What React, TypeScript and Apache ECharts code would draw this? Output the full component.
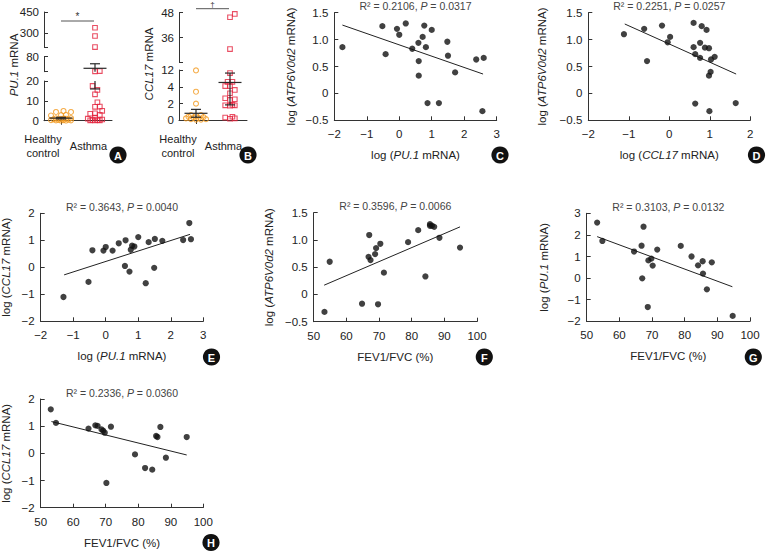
import React, { useEffect, useRef } from "react";
import * as echarts from "echarts";

// ---------------- data ----------------
const groups = ["Healthy\ncontrol", "Asthma"];

const pu1Healthy = [4.9, 4.4, 4.4, 2.9, 2.8, 2.6, 1.3, 1.2, 1.1, 1.0, 0.9, 0.7, 0.5, 0.4, 0.3, 0.3, 0.2, 0.2, 0.1, 0.1];
const pu1Asthma = [339, 281, 203, 23, 22, 17.5, 15.5, 13.3, 9.3, 7.1, 7.0, 5.0, 3.7, 3.5, 2.9, 1.5, 1.0, 0.6, 0.4, 0.3, 0.2, 0.2, 0.1];
const pu1Mean = [1.3, 34];
const pu1Sem = [0.4, 18];

const ccl17Healthy = [12, 3.46, 2.0, 0.6, 0.6, 0.5, 0.4, 0.35, 0.3, 0.25, 0.2, 0.1, 0.1, 0.05, 0.05];
const ccl17Asthma = [47.4, 45.8, 30.4, 10.75, 6.6, 6.6, 4.6, 4.6, 3.68, 3.27, 2.66, 2.54, 2.45, 1.85, 1.8, 1.8, 1.75, 0.4, 0.3, 0.2, 0.15];
const ccl17Mean = [0.82, 6.3];
const ccl17Sem = [0.48, 4.45];

// C: log PU.1 vs log ATP6V0d2
const panelC = [[-1.75, 0.86], [-0.52, 1.25], [-0.42, 0.73], [-0.07, 1.2], [0.0, 1.09], [0.2, 1.3], [0.4, 0.83], [0.59, 0.94], [0.6, 0.6], [0.6, 0.33], [0.72, 1.05], [0.77, 1.26], [0.82, 0.86], [0.87, -0.18], [1.0, 1.18], [1.22, -0.18], [1.48, 0.96], [1.5, 0.7], [1.72, 0.39], [2.37, 0.63], [2.56, -0.33], [2.6, 0.66]];
const fitC = [[-1.75, 1.27], [2.58, 0.36]];
const statsC = ["0.2106", "0.0317"];

// D: log CCL17 vs log ATP6V0d2
const panelD = [[-1.12, 1.1], [-0.62, 1.2], [-0.55, 0.6], [-0.18, 1.26], [-0.04, 0.95], [0.02, 1.05], [0.6, 1.31], [0.6, 0.86], [0.64, 0.73], [0.64, -0.19], [0.76, 0.66], [0.76, 0.94], [0.8, 1.25], [0.88, 0.85], [0.92, 1.18], [0.98, 0.84], [0.98, 0.33], [1.02, 0.4], [0.99, -0.33], [1.03, 0.63], [1.12, 0.68], [1.64, -0.18]];
const fitD = [[-1.1, 1.29], [1.65, 0.36]];
const statsD = ["0.2251", "0.0257"];

// E: log PU.1 vs log CCL17
const panelE = [[-1.3, -1.1], [-0.53, -0.54], [-0.41, 0.63], [-0.07, 0.62], [0.0, 0.75], [0.21, 0.62], [0.4, 0.89], [0.59, 0.05], [0.61, 1.0], [0.73, -0.16], [0.77, 0.65], [0.81, 0.8], [0.88, 0.77], [1.0, 1.12], [1.23, -0.59], [1.32, 0.93], [1.49, -0.02], [1.51, 1.05], [1.74, 0.98], [2.38, 1.01], [2.57, 1.64], [2.62, 1.04]];
const fitE = [[-1.28, -0.28], [2.59, 1.22]];
const statsE = ["0.3643", "0.0040"];

// F: FEV1/FVC vs log ATP6V0d2
const panelF = [[53.3, -0.32], [54.9, 0.6], [64.8, -0.17], [66.8, 0.69], [67.0, 1.09], [67.4, 0.63], [68.8, 0.74], [69.1, 0.85], [69.7, -0.18], [70.4, 0.93], [71.5, 0.4], [78.9, 0.96], [82.0, 1.18], [84.2, 0.33], [85.6, 1.29], [85.6, 1.26], [86.2, 1.26], [86.9, 1.24], [88.5, 1.04], [94.8, 0.86]];
const fitF = [[53.2, 0.17], [94.8, 1.24]];
const statsF = ["0.3596", "0.0066"];

// G: FEV1/FVC vs log PU.1
const panelG = [[53.2, 2.57], [54.8, 1.72], [64.5, 1.23], [66.8, 1.5], [67.0, -0.01], [67.4, 2.38], [68.9, 0.82], [68.7, -1.34], [69.8, 0.9], [70.2, 0.58], [71.6, 1.32], [78.8, 1.49], [82.1, 1.0], [84.1, 0.59], [85.5, 0.78], [85.6, 0.21], [86.8, -0.52], [88.3, 0.73], [94.7, -1.75]];
const fitG = [[53.2, 1.92], [94.6, -0.4]];
const statsG = ["0.3103", "0.0132"];

// H: FEV1/FVC vs log CCL17
const panelH = [[53.1, 1.62], [54.7, 1.12], [64.7, 0.91], [66.8, 1.03], [67.5, 1.01], [68.7, 0.88], [69.2, 0.83], [69.7, 0.76], [70.2, -1.09], [71.6, 0.98], [79.0, -0.04], [82.1, -0.54], [84.3, -0.6], [85.5, 0.64], [85.9, 0.6], [86.8, 0.97], [88.5, -0.16], [94.9, 0.6]];
const fitH = [[53.3, 1.17], [94.9, -0.06]];
const statsH = ["0.2336", "0.0360"];

// ---------------- styling / layout ----------------
const FONT = "'Liberation Sans', Arial, Helvetica, sans-serif";
const INK = "#222";
const AXIS = "#333";
const ORANGE = "#F29A1F";
const RED = "#E4233D";
const FS = 11.5;

type Seg = { top: number; height: number; min: number; max: number; ticks: number[]; labels: number[] };

const rich = {
  i: { fontStyle: "italic", fontSize: FS, fontFamily: FONT, color: INK },
};

function segPx(segs: Seg[], v: number) {
  let s = segs.find((q) => v >= q.min && v <= q.max);
  if (!s) {
    let bd = Infinity;
    for (const q of segs) {
      const d = Math.min(Math.abs(v - q.min), Math.abs(v - q.max));
      if (d < bd) { bd = d; s = q; }
    }
  }
  const q = s as Seg;
  const c = Math.min(Math.max(v, q.min), q.max);
  return q.top + ((q.max - c) / (q.max - q.min)) * q.height;
}

// beeswarm layout with a limited horizontal spread
function swarm(values: number[], segs: Seg[], d: number, spread: number) {
  const order = values.map((_, i) => i).sort((a, b) => values[a] - values[b]);
  const placed: { x: number; y: number }[] = [];
  const off = new Array(values.length).fill(0);
  const step = d * 0.5;
  const cands: number[] = [0];
  for (let k = 1; k * step <= spread + 0.01; k++) { cands.push(k * step, -k * step); }
  for (const i of order) {
    const y = segPx(segs, values[i]);
    let best = 0, bestScore = -Infinity;
    for (const c of cands) {
      const md = placed.length ? Math.min(...placed.map((p) => Math.hypot(p.x - c, p.y - y))) : Infinity;
      if (md >= d) { best = c; bestScore = Infinity; break; }
      if (md > bestScore + 0.3) { bestScore = md; best = c; }
    }
    off[i] = best;
    placed.push({ x: best, y });
  }
  return off;
}

function errRender(seg: Seg) {
  return (params: any, api: any) => {
    const cat = api.value(0);
    const mean = api.value(1);
    const sem = api.value(2);
    const style = { stroke: "#2a2a2a", lineWidth: 1.2 };
    const cx = api.coord([cat, seg.min])[0];
    const yOf = (v: number) => api.coord([cat, v])[1];
    const children: any[] = [];
    const lo = Math.max(mean - sem, seg.min);
    const hi = Math.min(mean + sem, seg.max);
    const inSeg = (v: number) => v >= seg.min && v <= seg.max;
    if (hi > lo) children.push({ type: "line", shape: { x1: cx, y1: yOf(lo), x2: cx, y2: yOf(hi) }, style });
    if (inSeg(mean)) children.push({ type: "line", shape: { x1: cx - 11.5, y1: yOf(mean), x2: cx + 11.5, y2: yOf(mean) }, style });
    if (inSeg(mean + sem)) children.push({ type: "line", shape: { x1: cx - 5, y1: yOf(mean + sem), x2: cx + 5, y2: yOf(mean + sem) }, style });
    if (inSeg(mean - sem)) children.push({ type: "line", shape: { x1: cx - 5, y1: yOf(mean - sem), x2: cx + 5, y2: yOf(mean - sem) }, style });
    return { type: "group", children };
  };
}

function addBroken(opt: any, cfg: any) {
  const offH = swarm(cfg.healthy, cfg.segs, 5, 11);
  const offA = swarm(cfg.asthma, cfg.segs, 4.8, 8);
  const owner = (v: number) => cfg.segs.findIndex((q: Seg) => v >= q.min && v <= q.max);
  cfg.segs.forEach((s: Seg, si: number) => {
    const gi = opt.grid.length;
    const isBottom = si === 0;
    opt.grid.push({ left: cfg.left, width: cfg.width, top: s.top, height: s.height, outerBoundsMode: "none" });
    opt.xAxis.push({
      gridIndex: gi, type: "category", data: groups, show: isBottom, boundaryGap: true,
      axisLine: { show: true, lineStyle: { color: AXIS, width: 1 } },
      axisTick: { show: true, alignWithLabel: true, length: 4, lineStyle: { color: AXIS } },
      axisLabel: { show: false },
      splitLine: { show: false },
    });
    opt.yAxis.push({
      gridIndex: gi, type: "value", min: s.min, max: s.max,
      axisLine: { show: true, onZero: false, lineStyle: { color: AXIS, width: 1 } },
      axisTick: { show: true, inside: true, length: 4, customValues: s.ticks, lineStyle: { color: AXIS } },
      axisLabel: { customValues: s.labels, fontSize: FS, color: INK, fontFamily: FONT, margin: 5 },
      splitLine: { show: false },
    });
    opt.series.push({
      type: "scatter", xAxisIndex: gi, yAxisIndex: gi, symbol: "circle", symbolSize: 5,
      itemStyle: { color: "rgba(255,255,255,0)", borderColor: ORANGE, borderWidth: 1.1 },
      data: cfg.healthy.map((v: number, i: number) => ({ value: [0, v], symbolOffset: [offH[i], 0] })).filter((d: any) => owner(d.value[1]) === si),
      z: 2,
    });
    opt.series.push({
      type: "scatter", xAxisIndex: gi, yAxisIndex: gi, symbol: "rect", symbolSize: 4.6,
      itemStyle: { color: "rgba(255,255,255,0)", borderColor: RED, borderWidth: 1.1 },
      data: cfg.asthma.map((v: number, i: number) => ({ value: [1, v], symbolOffset: [offA[i], 0] })).filter((d: any) => owner(d.value[1]) === si),
      z: 2,
    });
    opt.series.push({
      type: "custom", xAxisIndex: gi, yAxisIndex: gi, renderItem: errRender(s),
      encode: { x: 0, y: 1 },
      data: cfg.mean.map((m: number, i: number) => [i, m, cfg.sem[i]]),
      z: 5,
    });
  });
  // category labels, placed in the band under the axis where the original's slanted labels sit
  const bw = cfg.width / groups.length;
  const shift = [-18, -6.5];
  groups.forEach((g, i) => {
    opt.graphic.push({
      type: "text", x: cfg.left + bw * (i + 0.5) + shift[i], y: 146,
      style: { text: g, fontSize: 11, lineHeight: 13.5, fill: INK, fontFamily: FONT, align: "center", verticalAlign: "middle" },
    });
  });
}

function fmt(v: number, dec: number) {
  const s = v === 0 ? "0" : v.toFixed(dec);
  return s.replace("-", "\u2212");
}

function addScatter(opt: any, p: any) {
  const gi = opt.grid.length;
  opt.grid.push({ left: p.box[0], top: p.box[1], width: p.box[2], height: p.box[3], outerBoundsMode: "none" });
  const common = {
    axisLine: { show: true, onZero: false, lineStyle: { color: AXIS, width: 1 } },
    axisTick: { show: true, inside: true, length: 4, lineStyle: { color: AXIS } },
    splitLine: { show: false },
    nameLocation: "middle",
    nameTextStyle: { fontSize: FS, color: INK, fontFamily: FONT, rich },
  };
  opt.xAxis.push({
    ...common, gridIndex: gi, type: "value", min: p.x[0], max: p.x[1], interval: p.x[2],
    name: p.xName, nameGap: 29,
    axisLabel: { fontSize: FS, color: INK, fontFamily: FONT, margin: 8, formatter: (v: number) => fmt(v, 0) },
  });
  opt.yAxis.push({
    ...common, gridIndex: gi, type: "value", min: p.y[0], max: p.y[1], interval: p.y[2],
    name: p.yName, nameGap: p.yGap,
    axisLabel: { fontSize: FS, color: INK, fontFamily: FONT, margin: 6, formatter: (v: number) => fmt(v, p.y[3]) },
  });
  opt.series.push({
    type: "scatter", xAxisIndex: gi, yAxisIndex: gi, symbol: "circle", symbolSize: 6.2,
    itemStyle: { color: "#111" }, data: p.data, z: 3,
  });
  opt.series.push({
    type: "line", xAxisIndex: gi, yAxisIndex: gi, data: p.fit, showSymbol: false, symbol: "none",
    lineStyle: { color: "#222", width: 1 }, z: 2,
  });
  opt.graphic.push({
    type: "text", x: p.box[0] + p.box[2] / 2, y: p.box[1] - 6.5,
    style: {
      text: `R\u00B2 = ${p.stats[0]}, {i|P} = ${p.stats[1]}`,
      fontSize: 10.5, fill: "#444", fontFamily: FONT, align: "center", verticalAlign: "middle",
      rich: { i: { fontStyle: "italic", fontSize: 10.5, fill: "#444", fontFamily: FONT } },
    },
  });
  badge(opt, p.badge[0], p.badge[1], p.key);
}

function badge(opt: any, x: number, y: number, letter: string) {
  opt.graphic.push({ type: "circle", shape: { cx: x, cy: y, r: 8.6 }, style: { fill: "#111" } });
  opt.graphic.push({
    type: "text", x, y: y + 0.5,
    style: { text: letter, fontSize: 11, fontWeight: "bold", fill: "#fff", fontFamily: FONT, align: "center", verticalAlign: "middle" },
  });
}

function buildOption() {
  const opt: any = {
    animation: false,
    backgroundColor: "#fff",
    textStyle: { fontFamily: FONT },
    grid: [], xAxis: [], yAxis: [], series: [], graphic: [],
  };

  // Panel A
  addBroken(opt, {
    left: 44, width: 68,
    segs: [
      { top: 81, height: 39.7, min: 0, max: 20, ticks: [0, 10, 20], labels: [0, 10, 20] },
      { top: 56.7, height: 15, min: 20.5, max: 80, ticks: [20.5, 40, 80], labels: [40, 80] },
      { top: 12, height: 35.5, min: 200, max: 450, ticks: [200, 300, 450], labels: [300, 450] },
    ],
    healthy: pu1Healthy, asthma: pu1Asthma, mean: pu1Mean, sem: pu1Sem,
  });
  // Panel B
  addBroken(opt, {
    left: 179, width: 68,
    segs: [
      { top: 87.3, height: 32.7, min: 0, max: 4, ticks: [0, 2, 4], labels: [0, 2, 4] },
      { top: 70, height: 17.3, min: 4.01, max: 12.2, ticks: [12.2], labels: [12] },
      { top: 12.7, height: 49.6, min: 24, max: 48, ticks: [24, 36, 48], labels: [36, 48] },
    ],
    healthy: ccl17Healthy, asthma: ccl17Asthma, mean: ccl17Mean, sem: ccl17Sem,
  });

  // A/B y-axis names
  opt.graphic.push({
    type: "text", x: 13.5, y: 65, rotation: Math.PI / 2,
    style: { text: "{i|PU.1} mRNA", fontSize: FS, fill: INK, fontFamily: FONT, align: "center", verticalAlign: "middle", rich: { i: { fontStyle: "italic", fontSize: FS, fill: INK, fontFamily: FONT } } },
  });
  opt.graphic.push({
    type: "text", x: 148.5, y: 64, rotation: Math.PI / 2,
    style: { text: "{i|CCL17} mRNA", fontSize: FS, fill: INK, fontFamily: FONT, align: "center", verticalAlign: "middle", rich: { i: { fontStyle: "italic", fontSize: FS, fill: INK, fontFamily: FONT } } },
  });
  // significance marks
  opt.graphic.push({ type: "line", shape: { x1: 61, y1: 21, x2: 94, y2: 21 }, style: { stroke: "#555", lineWidth: 1 } });
  opt.graphic.push({ type: "text", x: 77.5, y: 16, style: { text: "*", fontSize: 10, fill: "#333", fontFamily: FONT, align: "center", verticalAlign: "middle" } });
  opt.graphic.push({ type: "line", shape: { x1: 196, y1: 8.7, x2: 229, y2: 8.7 }, style: { stroke: "#555", lineWidth: 1 } });
  opt.graphic.push({ type: "text", x: 212.5, y: 4, style: { text: "\u2020", fontSize: 8, fill: "#333", fontFamily: FONT, align: "center", verticalAlign: "middle" } });
  badge(opt, 118, 155, "A");
  badge(opt, 248, 155, "B");

  const atp = "log ({i|ATP6V0d2} mRNA)";
  const pu1 = "log ({i|PU.1} mRNA)";
  const ccl = "log ({i|CCL17} mRNA)";
  const fev = "FEV1/FVC (%)";
  const panels = [
    { key: "C", data: panelC, fit: fitC, stats: statsC, xName: pu1, yName: atp, box: [334.3, 12.7, 162.4, 107.6], x: [-2, 3, 1], y: [-0.5, 1.5, 0.5, 1], yGap: 37, badge: [500, 155] },
    { key: "D", data: panelD, fit: fitD, stats: statsD, xName: ccl, yName: atp, box: [588.3, 12.7, 162, 107.6], x: [-2, 2, 1], y: [-0.5, 1.5, 0.5, 1], yGap: 40, badge: [756.5, 155] },
    { key: "E", data: panelE, fit: fitE, stats: statsE, xName: pu1, yName: ccl, box: [40.7, 213.3, 162.6, 108], x: [-2, 3, 1], y: [-2, 2, 1, 0], yGap: 29, badge: [211.5, 357] },
    { key: "F", data: panelF, fit: fitF, stats: statsF, xName: fev, yName: atp, box: [313.7, 212.7, 163.3, 109], x: [50, 100, 10], y: [-0.5, 1.5, 0.5, 1], yGap: 39, badge: [484.3, 357] },
    { key: "G", data: panelG, fit: fitG, stats: statsG, xName: fev, yName: pu1, box: [586.7, 213.3, 163.3, 108], x: [50, 100, 10], y: [-2, 3, 1, 0], yGap: 37, badge: [753.3, 357] },
    { key: "H", data: panelH, fit: fitH, stats: statsH, xName: fev, yName: ccl, box: [40.7, 399, 162.6, 108.7], x: [50, 100, 10], y: [-2, 2, 1, 0], yGap: 29, badge: [211, 542.5] },
  ];
  panels.forEach((p) => addScatter(opt, p));
  return opt;
}

export default function App() {
  const ref = useRef<HTMLDivElement>(null);
  useEffect(() => {
    if (!ref.current) return;
    const chart = echarts.init(ref.current, undefined, { renderer: "svg" });
    chart.setOption(buildOption());
    return () => chart.dispose();
  }, []);
  return (
    <div
      ref={ref}
      style={{ position: "fixed", left: 0, top: 0, width: 769, height: 553, background: "#fff" }}
    />
  );
}
